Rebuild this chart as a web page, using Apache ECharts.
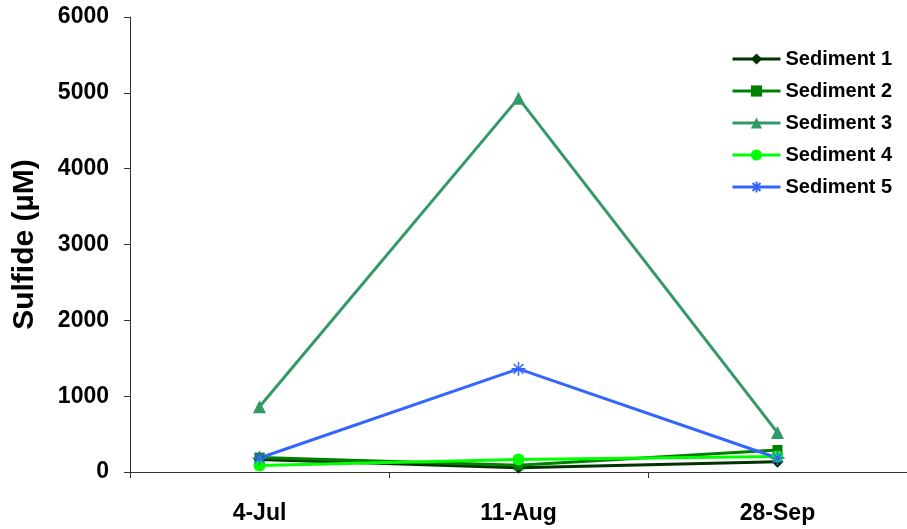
<!DOCTYPE html>
<html>
<head>
<meta charset="utf-8">
<script src="https://cdn.jsdelivr.net/npm/echarts@6/dist/echarts.min.js"></script>
<style>
  html, body { margin: 0; padding: 0; background: #fff; }
  #chart { width: 907px; height: 529px; }
</style>
</head>
<body>
<div id="chart"></div>
<script>
// Sampling dates
const dates = ['4-Jul', '11-Aug', '28-Sep'];

// Sulfide concentration (µM) per sediment
const sediment1 = [165, 55, 135];
const sediment2 = [190, 90, 290];
const sediment3 = [860, 4930, 520];
const sediment4 = [85, 165, 205];
const sediment5 = [185, 1360, 185];

const yTicks = { min: 0, max: 6000, interval: 1000 };

const FONT = 'Liberation Sans, Arial, sans-serif';
const asterisk = 'path://M0,5L10,5M5,0L5,10M1.5,1.5L8.5,8.5M8.5,1.5L1.5,8.5';

function line(name, data, color, symbol, size, extra) {
  return Object.assign({
    name: name,
    type: 'line',
    data: data,
    symbol: symbol,
    symbolSize: size,
    lineStyle: { color: color, width: 3 },
    itemStyle: { color: color },
    emphasis: { disabled: true }
  }, extra || {});
}

const chart = echarts.init(document.getElementById('chart'));
chart.setOption({
  animation: false,
  grid: { left: 130, top: 17, width: 787, height: 455 },
  legend: {
    orient: 'vertical',
    left: 726,
    top: 44,
    itemGap: 12,
    itemWidth: 48,
    itemHeight: 14,
    lineStyle: { width: 3 },
    textStyle: { fontFamily: FONT, fontWeight: 'bold', fontSize: 20, color: '#000' },
    data: ['Sediment 1', 'Sediment 2', 'Sediment 3', 'Sediment 4', 'Sediment 5']
  },
  xAxis: {
    type: 'category',
    data: dates,
    boundaryGap: true,
    axisLine: { lineStyle: { color: '#333', width: 1 } },
    axisTick: { show: true, length: 6, lineStyle: { color: '#333' } },
    axisLabel: { margin: 30, fontFamily: FONT, fontWeight: 'bold', fontSize: 23, color: '#000' },
    splitLine: { show: false }
  },
  yAxis: {
    type: 'value',
    min: yTicks.min,
    max: yTicks.max,
    interval: yTicks.interval,
    name: 'Sulfide (µM)',
    nameLocation: 'middle',
    nameGap: 90,
    nameTextStyle: { fontFamily: FONT, fontWeight: 'bold', fontSize: 30, color: '#000' },
    axisLine: { show: true, lineStyle: { color: '#333', width: 1 } },
    axisTick: { show: true, length: 6, lineStyle: { color: '#333' } },
    axisLabel: {
      margin: 21, fontFamily: FONT, fontWeight: 'bold', fontSize: 23, color: '#000',
      formatter: function (v) { return String(v); }
    },
    splitLine: { show: false }
  },
  series: [
    line('Sediment 1', sediment1, '#003300', 'diamond', 12),
    line('Sediment 2', sediment2, '#008000', 'rect', 10),
    line('Sediment 3', sediment3, '#339966', 'triangle', 13),
    line('Sediment 4', sediment4, '#00ff00', 'circle', 12),
    line('Sediment 5', sediment5, '#3366ff', asterisk, 14, {
      itemStyle: { color: 'transparent', borderColor: '#3366ff', borderWidth: 1.5 }
    })
  ]
});
</script>
</body>
</html>
